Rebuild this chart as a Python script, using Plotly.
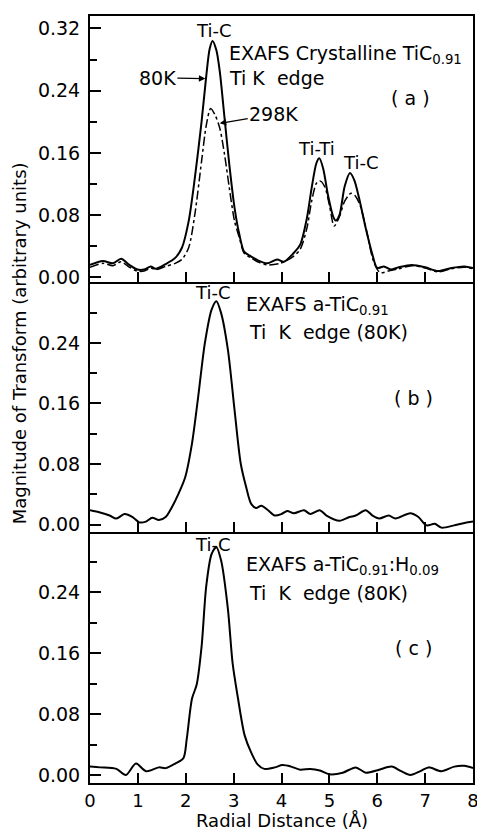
import plotly.graph_objects as go

# ---------------- data ----------------
x_a80 = [0.0, 0.27, 0.48, 0.65, 0.82, 0.99, 1.13, 1.27, 1.37, 1.58, 1.78, 1.92, 2.06, 2.19, 2.33, 2.43, 2.50, 2.56, 2.64, 2.71,
         2.81, 2.91, 3.02, 3.12, 3.22, 3.36, 3.50, 3.70, 3.91, 4.05, 4.25, 4.39, 4.53, 4.63, 4.73, 4.79, 4.87, 4.97, 5.08, 5.13,
         5.21, 5.32, 5.43, 5.52, 5.62, 5.76, 5.90, 6.00, 6.14, 6.28, 6.45, 6.72, 7.00, 7.27, 7.55, 7.82, 8.0]
y_a80 = [0.016, 0.021, 0.018, 0.024, 0.016, 0.010, 0.010, 0.014, 0.011, 0.017, 0.025, 0.038, 0.072, 0.128, 0.200, 0.260, 0.294, 0.304, 0.292, 0.265,
         0.205, 0.145, 0.089, 0.055, 0.033, 0.027, 0.022, 0.018, 0.023, 0.020, 0.031, 0.042, 0.076, 0.115, 0.147, 0.153, 0.140, 0.106, 0.078, 0.073,
         0.080, 0.117, 0.134, 0.125, 0.102, 0.063, 0.029, 0.012, 0.014, 0.010, 0.013, 0.016, 0.013, 0.008, 0.012, 0.014, 0.012]

x_a298 = [0.0, 0.27, 0.48, 0.65, 0.82, 0.99, 1.13, 1.27, 1.37, 1.58, 1.78, 1.92, 2.06, 2.19, 2.33, 2.43, 2.52, 2.61, 2.71, 2.81,
          2.91, 3.02, 3.12, 3.22, 3.36, 3.50, 3.70, 3.97, 4.25, 4.39, 4.53, 4.63, 4.73, 4.80, 4.90, 5.00, 5.10, 5.21, 5.32, 5.45,
          5.55, 5.65, 5.78, 5.92, 6.06, 6.23, 6.45, 6.72, 7.00, 7.27, 7.55, 7.82, 8.0]
y_a298 = [0.013, 0.018, 0.015, 0.020, 0.013, 0.008, 0.008, 0.012, 0.010, 0.014, 0.018, 0.023, 0.038, 0.081, 0.149, 0.196, 0.217, 0.209, 0.192, 0.158,
          0.115, 0.072, 0.051, 0.031, 0.025, 0.020, 0.016, 0.018, 0.027, 0.036, 0.063, 0.098, 0.121, 0.124, 0.117, 0.093, 0.066, 0.078, 0.098, 0.108,
          0.104, 0.091, 0.059, 0.021, 0.006, 0.008, 0.011, 0.015, 0.012, 0.007, 0.011, 0.013, 0.011]

x_b = [0.0, 0.21, 0.41, 0.55, 0.72, 0.89, 1.03, 1.17, 1.30, 1.44, 1.58, 1.71, 1.85, 1.99, 2.13, 2.26, 2.40, 2.54, 2.64, 2.74,
       2.88, 3.02, 3.15, 3.26, 3.37, 3.47, 3.58, 3.72, 3.86, 4.00, 4.12, 4.26, 4.47, 4.60, 4.80, 4.94, 5.21, 5.42, 5.55, 5.76,
       5.90, 6.04, 6.24, 6.38, 6.69, 6.86, 7.03, 7.20, 7.34, 7.61, 7.89, 8.0]
y_b = [0.019, 0.016, 0.012, 0.008, 0.014, 0.010, 0.003, 0.004, 0.009, 0.006, 0.010, 0.023, 0.041, 0.063, 0.107, 0.169, 0.240, 0.284, 0.295, 0.279,
       0.231, 0.151, 0.080, 0.050, 0.027, 0.022, 0.025, 0.019, 0.012, 0.014, 0.018, 0.015, 0.019, 0.014, 0.019, 0.012, 0.005, 0.010, 0.012, 0.019,
       0.012, 0.008, 0.012, 0.008, 0.015, 0.010, -0.001, 0.001, -0.004, -0.001, 0.003, 0.004]

x_c = [0.0, 0.21, 0.55, 0.75, 0.96, 1.17, 1.44, 1.58, 1.78, 1.95, 2.02, 2.13, 2.23, 2.33, 2.43, 2.54, 2.64, 2.74, 2.88, 2.98,
       3.09, 3.23, 3.37, 3.50, 3.64, 3.86, 4.02, 4.20, 4.39, 4.60, 4.80, 5.00, 5.28, 5.55, 5.76, 6.04, 6.30, 6.50, 6.69, 6.90,
       7.07, 7.34, 7.61, 7.82, 8.0]
y_c = [0.011, 0.010, 0.008, 0.000, 0.015, 0.005, 0.010, 0.009, 0.015, 0.022, 0.047, 0.100, 0.119, 0.168, 0.249, 0.290, 0.299, 0.281, 0.218, 0.146,
       0.101, 0.052, 0.029, 0.014, 0.008, 0.010, 0.013, 0.011, 0.007, 0.008, 0.006, 0.001, 0.003, 0.010, 0.003, 0.007, 0.011, 0.005, 0.000, 0.005,
       0.010, 0.005, 0.011, 0.012, 0.009]

x_ticks = [0, 1, 2, 3, 4, 5, 6, 7, 8]
y_ticks_a = [0.0, 0.08, 0.16, 0.24, 0.32]
y_ticks_bc = [0.0, 0.08, 0.16, 0.24]
y_minor = [0.04, 0.12, 0.20, 0.28]

FONT = "DejaVu Sans"

fig = go.Figure()
spl = dict(shape="spline", smoothing=0.8, color="black")
fig.add_trace(go.Scatter(x=x_a80, y=y_a80, mode="lines", line=dict(width=2, **spl), xaxis="x", yaxis="y"))
fig.add_trace(go.Scatter(x=x_a298, y=y_a298, mode="lines", line=dict(width=1.5, dash="dashdot", **spl), xaxis="x", yaxis="y"))
fig.add_trace(go.Scatter(x=x_b, y=y_b, mode="lines", line=dict(width=2, **spl), xaxis="x2", yaxis="y2"))
fig.add_trace(go.Scatter(x=x_c, y=y_c, mode="lines", line=dict(width=2, **spl), xaxis="x3", yaxis="y3"))

xcommon = dict(range=[0, 8], tickvals=x_ticks, ticks="inside", ticklen=10, tickwidth=1.5, tickcolor="black",
               showline=True, mirror=True, linecolor="black", linewidth=2, showgrid=False, zeroline=False,
               tickfont=dict(family=FONT, size=18, color="black"))
ycommon = dict(ticks="inside", ticklen=11, tickwidth=1.5, tickcolor="black", tickformat=".2f",
               showline=True, mirror=True, linecolor="black", linewidth=2, showgrid=False, zeroline=False,
               ticklabelstandoff=4,
               tickfont=dict(family=FONT, size=19, color="black"),
               minor=dict(tickvals=y_minor, ticks="inside", ticklen=7, tickwidth=1.5, tickcolor="black", showgrid=False))

# page body adds an 8px offset; margins compensate so the plot frame lands at x 90-479, y 14-783
fig.update_layout(
    width=477, height=824, margin=dict(l=82, r=6, t=6, b=49),
    paper_bgcolor="white", plot_bgcolor="white", showlegend=False,
    font=dict(family=FONT, color="black", size=18),
    xaxis=dict(xcommon, anchor="y", showticklabels=False),
    xaxis2=dict(xcommon, anchor="y2", showticklabels=False, matches="x"),
    xaxis3=dict(xcommon, anchor="y3", showticklabels=True, matches="x"),
    yaxis=dict(ycommon, domain=[0.6528, 1.0], range=[-0.0064, 0.336], tickvals=y_ticks_a, anchor="x"),
    yaxis2=dict(ycommon, domain=[0.3277, 0.6502], range=[-0.0093, 0.3174], tickvals=y_ticks_bc, anchor="x2"),
    yaxis3=dict(ycommon, domain=[0.0, 0.3251], range=[-0.0105, 0.3167], tickvals=y_ticks_bc, anchor="x3"),
)

ann = []
def txt(x, y, t, xr, yr, size=18, xanchor="center"):
    ann.append(dict(x=x, y=y, xref=xr, yref=yr, text=t, showarrow=False, xanchor=xanchor, yanchor="middle",
                    font=dict(family=FONT, size=size, color="black")))

# panel (a)
txt(2.6, 0.318, "Ti-C", "x", "y")
txt(2.86, 0.286, "EXAFS Crystalline TiC<sub>0.91</sub>", "x", "y", 19, "left")
txt(2.86, 0.256, "Ti K  edge", "x", "y", 19, "left")
txt(6.69, 0.23, "( a )", "x", "y", 19)
txt(4.73, 0.166, "Ti-Ti", "x", "y")
txt(5.66, 0.148, "Ti-C", "x", "y")
ann.append(dict(x=2.41, y=0.2555, xref="x", yref="y", text="80K", showarrow=True, ax=-48, ay=-1,
                arrowhead=2, arrowsize=1, arrowwidth=1.3, arrowcolor="black",
                font=dict(family=FONT, size=19, color="black")))
ann.append(dict(x=2.71, y=0.198, xref="x", yref="y", text="298K", showarrow=True, ax=54, ay=-9,
                arrowhead=2, arrowsize=1, arrowwidth=1.3, arrowcolor="black",
                font=dict(family=FONT, size=19, color="black")))

# panel (b)
txt(2.57, 0.306, "Ti-C", "x2", "y2")
txt(3.22, 0.289, "EXAFS a-TiC<sub>0.91</sub>", "x2", "y2", 19, "left")
txt(3.27, 0.255, "Ti  K  edge (80K)", "x2", "y2", 19, "left")
txt(6.75, 0.167, "( b )", "x2", "y2", 19)

# panel (c)
txt(2.57, 0.302, "Ti-C", "x3", "y3")
txt(3.22, 0.275, "EXAFS a-TiC<sub>0.91</sub>:H<sub>0.09</sub>", "x3", "y3", 19, "left")
txt(3.27, 0.239, "Ti  K  edge (80K)", "x3", "y3", 19, "left")
txt(6.75, 0.167, "( c )", "x3", "y3", 19)

# axis titles
ann.append(dict(x=-0.185, y=0.5735, xref="paper", yref="paper", text="Magnitude of Transform (arbitrary units)",
                textangle=-90, showarrow=False, xanchor="center", yanchor="middle",
                font=dict(family=FONT, size=18, color="black")))
ann.append(dict(x=0.5, y=-0.049, xref="paper", yref="paper", text="Radial Distance (Å)",
                showarrow=False, xanchor="center", yanchor="middle", borderpad=0,
                font=dict(family=FONT, size=18, color="black")))
fig.update_layout(annotations=ann)

fig.write_html("out.html")
